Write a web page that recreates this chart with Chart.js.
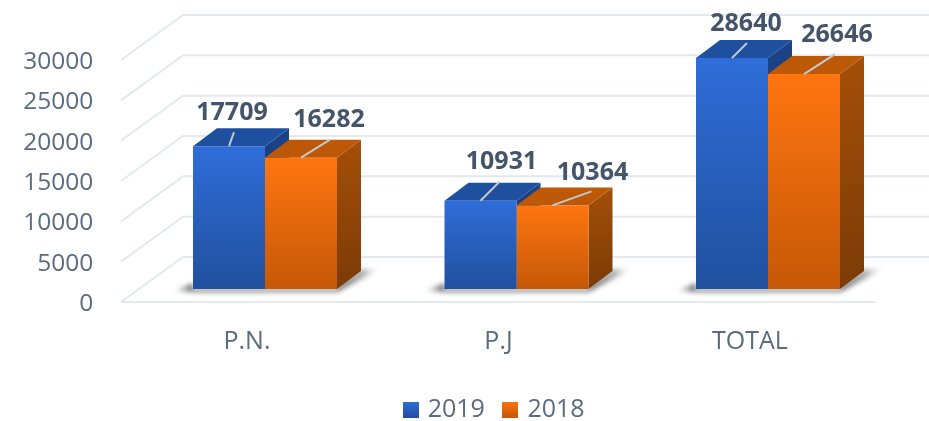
<!DOCTYPE html>
<html><head><meta charset="utf-8">
<style>html,body{margin:0;padding:0;background:#fff}#w{width:929px;height:421px;filter:blur(0.6px)}</style>
<script src="https://cdn.jsdelivr.net/npm/chart.js@4"></script></head>
<body><div id="w"><canvas id="c" width="929" height="421"></canvas></div>
<script>
const categories = ['P.N.', 'P.J', 'TOTAL'];
const series2019 = [17709, 10931, 28640];
const series2018 = [16282, 10364, 26646];
const seriesNames = ['2019', '2018'];
const yTicks = [0, 5000, 10000, 15000, 20000, 25000, 30000];

const palette = [
  {top:'#2f6dd9', bottom:'#21509e', lid:'#1f4f9f', sideTop:'#1b4389', sideBottom:'#173870'},
  {top:'#ff7510', bottom:'#c55807', lid:'#bd5906', sideTop:'#a44f08', sideBottom:'#7c3b06'}
];
// geometry of the pseudo-3D box, in pixels
const D = {dx:24, dy:18, gridBackDy:-32, gridFrontDy:13, gridX0:121, gridX1:183};
// label and leader offsets from each bar's top centre, per dataset and category
const labelOff = [[[3,-33],[21,-39],[14,-34]], [[28,-38],[40,-33],[33,-39]]];
const leaderEnd = [[[5,-14],[19,-19],[15,-15]], [[29,-18],[39,-14],[31,-20]]];

function swatch(p){
  const c=document.createElement('canvas');c.width=16;c.height=16;
  const x=c.getContext('2d');const g=x.createLinearGradient(0,0,0,16);
  g.addColorStop(0,p.top);g.addColorStop(1,p.bottom);x.fillStyle=g;x.fillRect(0,0,16,16);return c;
}
function poly(ctx,pts,fill){ctx.beginPath();pts.forEach((p,i)=>i?ctx.lineTo(p[0],p[1]):ctx.moveTo(p[0],p[1]));ctx.closePath();ctx.fillStyle=fill;ctx.fill();}

const box3d = {
  id:'box3d',
  afterLayout(chart){
    const lg=chart.legend;
    lg.left+=43.5;lg.right+=43.5;lg.top+=13;lg.bottom+=13;
  },
  beforeDatasetsDraw(chart){
    const {ctx,scales:{y,x}}=chart;
    ctx.save();
    ctx.strokeStyle='#e4e8ef';ctx.lineWidth=2;
    const step=x.getPixelForValue(1)-x.getPixelForValue(0);
    const span=step*3;
    yTicks.forEach(v=>{
      const py=y.getPixelForValue(v);
      ctx.beginPath();
      ctx.moveTo(D.gridX0,py+D.gridFrontDy);
      ctx.lineTo(D.gridX1,py+D.gridBackDy);
      ctx.lineTo(D.gridX1+span,py+D.gridBackDy);
      ctx.stroke();
    });
    const p0=y.getPixelForValue(0)+D.gridFrontDy;
    ctx.beginPath();ctx.moveTo(D.gridX0,p0);ctx.lineTo(D.gridX0+span,p0);ctx.stroke();
    ctx.restore();
    // floor shadows
    ctx.save();ctx.filter='blur(2.5px)';
    categories.forEach((_,i)=>{
      const a=chart.getDatasetMeta(0).data[i],b=chart.getDatasetMeta(1).data[i];
      const l=a.x-a.width/2,r=b.x+b.width/2,base=a.base;
      const gl=ctx.createLinearGradient(l-20,0,l,0);
      gl.addColorStop(0,'rgba(90,90,90,0)');gl.addColorStop(1,'rgba(70,70,70,0.85)');
      poly(ctx,[[l-20,base+2],[l,base-6],[l,base+3]],gl);
      poly(ctx,[[l,base],[r,base],[r,base+3],[l,base+3]],'rgba(70,70,70,0.75)');
      const gr=ctx.createLinearGradient(r,0,r+44,0);
      gr.addColorStop(0,'rgba(70,70,70,0.85)');gr.addColorStop(0.6,'rgba(120,120,120,0.55)');gr.addColorStop(1,'rgba(210,210,210,0)');
      poly(ctx,[[r,base-2],[r+24,base-20],[r+44,base-20],[r,base+3]],gr);
    });
    ctx.restore();
    // lids and sides
    ctx.save();
    [0,1].forEach(d=>{
      chart.getDatasetMeta(d).data.forEach(el=>{
        const l=el.x-el.width/2,r=el.x+el.width/2,t=el.y,base=el.base,p=palette[d];
        const g=ctx.createLinearGradient(0,t-D.dy,0,base);
        g.addColorStop(0,p.sideTop);g.addColorStop(1,p.sideBottom);
        poly(ctx,[[r,t],[r+D.dx,t-D.dy],[r+D.dx,base-D.dy],[r,base]],g);
        poly(ctx,[[l,t],[l+D.dx,t-D.dy],[r+D.dx,t-D.dy],[r,t]],p.lid);
      });
    });
    ctx.restore();
  },
  afterDatasetsDraw(chart){
    const {ctx}=chart;
    ctx.save();
    [series2019,series2018].forEach((vals,d)=>{
      chart.getDatasetMeta(d).data.forEach((el,i)=>{
        ctx.strokeStyle='#c3c8ce';ctx.lineWidth=2;
        ctx.beginPath();ctx.moveTo(el.x,el.y);
        ctx.lineTo(el.x+leaderEnd[d][i][0],el.y+leaderEnd[d][i][1]);ctx.stroke();
        ctx.fillStyle='#44546a';ctx.font='bold 25px "Open Sans"';
        ctx.textAlign='center';ctx.textBaseline='middle';
        ctx.fillText(String(vals[i]),el.x+labelOff[d][i][0],el.y+labelOff[d][i][1]);
      });
    });
    ctx.restore();
  }
};
const barFill = d => c => {
  const ch=c.chart, y=ch.scales.y;
  if(!y||c.parsed==null||!ch.chartArea) return palette[d].top;
  const g=ch.ctx.createLinearGradient(0,y.getPixelForValue(c.parsed.y),0,y.getPixelForValue(0));
  g.addColorStop(0,palette[d].top);g.addColorStop(1,palette[d].bottom);return g;
};
new Chart(document.getElementById('c'),{
  type:'bar',
  data:{labels:categories,datasets:[
    {label:seriesNames[0],data:series2019,backgroundColor:barFill(0)},
    {label:seriesNames[1],data:series2018,backgroundColor:barFill(1)}
  ]},
  options:{
    responsive:false,animation:false,
    datasets:{bar:{categoryPercentage:0.5726,barPercentage:1}},
    layout:{padding:{left:10,right:35.25,top:47,bottom:2}},
    scales:{
      x:{grid:{display:false},border:{display:false},
         ticks:{color:'#5b6b80',font:{family:'"Open Sans"',size:25},labelOffset:-18,padding:30,maxRotation:0},
         afterFit(s){s.height=74;}},
      y:{min:0,max:30000,grid:{display:false},border:{display:false},
         afterBuildTicks(s){s.ticks=yTicks.map(v=>({value:v}));},
         ticks:{color:'#5b6b80',font:{family:'"Open Sans"',size:24.5},labelOffset:15,padding:38,callback:v=>String(v)},
         afterFit(s){s.width=129.25;s.paddingTop=0;s.paddingBottom=0;}}
    },
    plugins:{
      tooltip:{enabled:false},
      legend:{position:'bottom',
        labels:{usePointStyle:true,pointStyleWidth:9,boxHeight:16,padding:21,color:'#5b6b80',
          font:{family:'"Open Sans"',size:25},
          generateLabels(){return seriesNames.map((n,i)=>({text:n,pointStyle:swatch(palette[i]),datasetIndex:i,fontColor:'#5b6b80',lineWidth:0}));}}
      }
    }
  },
  plugins:[box3d]
});
</script></body></html>
